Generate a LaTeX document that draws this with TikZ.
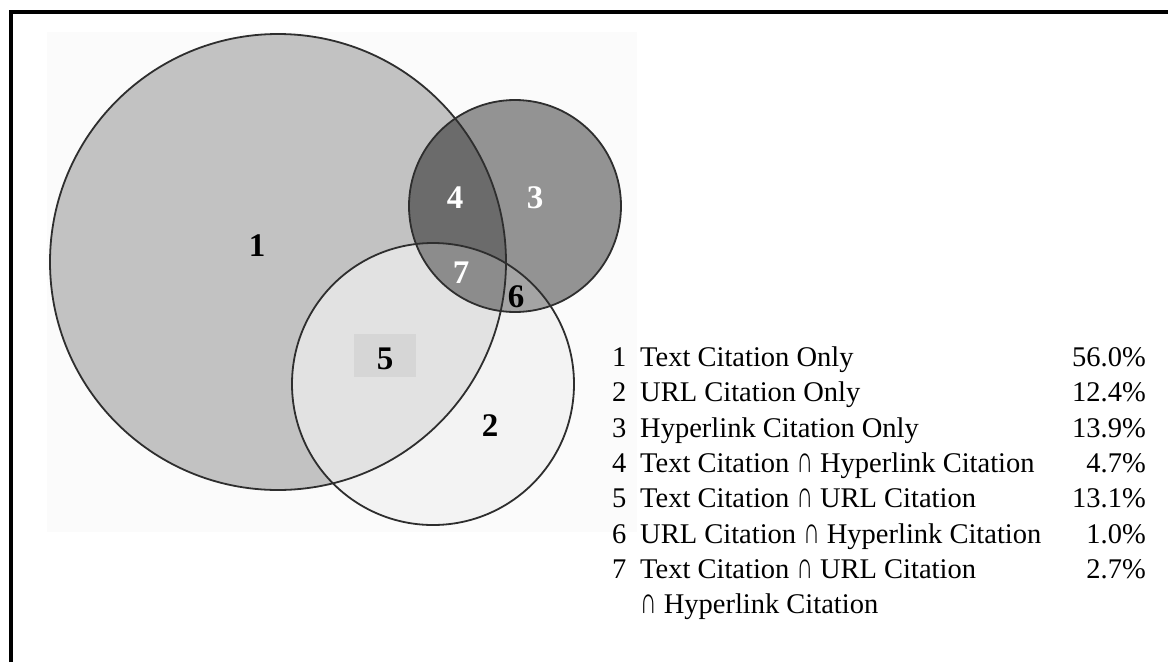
\documentclass[tikz,border=0pt]{standalone}
\usepackage{graphicx}
\usepackage{fontspec}
\setmainfont{Liberation Serif}
\newcommand{\capint}{\smash{\scalebox{0.8}[1.3]{∩}}}
\definecolor{rone}{HTML}{C2C2C2}
\definecolor{rtwo}{HTML}{F3F3F3}
\definecolor{rthree}{HTML}{939393}
\definecolor{rfour}{HTML}{6B6B6B}
\definecolor{rfive}{HTML}{E2E2E2}
\definecolor{rsix}{HTML}{A4A4A4}
\definecolor{rseven}{HTML}{8C8C8C}
\definecolor{rbox}{HTML}{D6D6D6}
\definecolor{outl}{HTML}{2E2E2E}
\definecolor{scanbg}{HTML}{FBFBFB}
\begin{document}
\begin{tikzpicture}[x=1pt,y=-1pt,
  vlab/.style={inner sep=0pt,font=\fontsize{33}{33}\selectfont\bfseries},
  leg/.style={inner sep=0pt,font=\fontsize{28.5}{35}\selectfont},
  ring/.style={draw=outl,line width=1.8pt}]
\useasboundingbox (0,0) rectangle (1168,662);
\fill[white] (0,0) rectangle (1168,662);
% faint scan background
\fill[scanbg] (47,32) rectangle (637,532);
% frame (only top and left edges are inside the picture)
\coordinate (fa) at (11,662);
\coordinate (fb) at (11,12);
\coordinate (fc) at (1168,12);
\draw[line width=3.6pt,black] (fa) -- (fb) -- (fc);
% circle centres
\coordinate (c1) at (278,262);
\coordinate (c2) at (433,384);
\coordinate (c3) at (515,206);
% regions
\fill[rone] (c1) circle[radius=228];
\fill[rtwo] (c2) circle[radius=141];
\begin{scope}
  \clip (c1) circle[radius=228];
  \fill[rfive] (c2) circle[radius=141];
\end{scope}
\fill[rthree] (c3) circle[radius=106];
\begin{scope}
  \clip (c1) circle[radius=228];
  \fill[rfour] (c3) circle[radius=106];
\end{scope}
\begin{scope}
  \clip (c2) circle[radius=141];
  \fill[rsix] (c3) circle[radius=106];
\end{scope}
\begin{scope}
  \clip (c1) circle[radius=228];
  \clip (c2) circle[radius=141];
  \fill[rseven] (c3) circle[radius=106];
\end{scope}
\fill[rbox] (354,334) rectangle (416,377);
% outlines
\draw[ring] (c1) circle[radius=228];
\draw[ring] (c2) circle[radius=141];
\draw[ring] (c3) circle[radius=106];
% region labels
\node[vlab] (l1) at (257,246) {1};
\node[vlab] (l2) at (490,426) {2};
\node[vlab,white] (l3) at (535,198) {3};
\node[vlab,white] (l4) at (455,198) {4};
\node[vlab] (l5) at (385,359) {5};
\node[vlab] (l6) at (516,297) {6};
\node[vlab,white] (l7) at (461,273) {7};
% legend
\node[leg,anchor=base west] (n1) at (612,366.6) {1};
\node[leg,anchor=base west] (t1) at (640,366.6) {Text Citation Only};
\node[leg,anchor=base east] (p1) at (1146,366.6) {56.0\%};
\node[leg,anchor=base west] (n2) at (612,401.9) {2};
\node[leg,anchor=base west] (t2) at (640,401.9) {URL Citation Only};
\node[leg,anchor=base east] (p2) at (1146,401.9) {12.4\%};
\node[leg,anchor=base west] (n3) at (612,437.2) {3};
\node[leg,anchor=base west] (t3) at (640,437.2) {Hyperlink Citation Only};
\node[leg,anchor=base east] (p3) at (1146,437.2) {13.9\%};
\node[leg,anchor=base west] (n4) at (612,472.5) {4};
\node[leg,anchor=base west] (t4) at (640,472.5) {Text Citation \capint{} Hyperlink Citation};
\node[leg,anchor=base east] (p4) at (1146,472.5) {4.7\%};
\node[leg,anchor=base west] (n5) at (612,507.8) {5};
\node[leg,anchor=base west] (t5) at (640,507.8) {Text Citation \capint{} URL Citation};
\node[leg,anchor=base east] (p5) at (1146,507.8) {13.1\%};
\node[leg,anchor=base west] (n6) at (612,543.1) {6};
\node[leg,anchor=base west] (t6) at (640,543.1) {URL Citation \capint{} Hyperlink Citation};
\node[leg,anchor=base east] (p6) at (1146,543.1) {1.0\%};
\node[leg,anchor=base west] (n7) at (612,578.4) {7};
\node[leg,anchor=base west] (t7) at (640,578.4) {Text Citation \capint{} URL Citation};
\node[leg,anchor=base east] (p7) at (1146,578.4) {2.7\%};
\node[leg,anchor=base west] (t8) at (640,613.7) {\capint{} Hyperlink Citation};
\end{tikzpicture}
\end{document}
